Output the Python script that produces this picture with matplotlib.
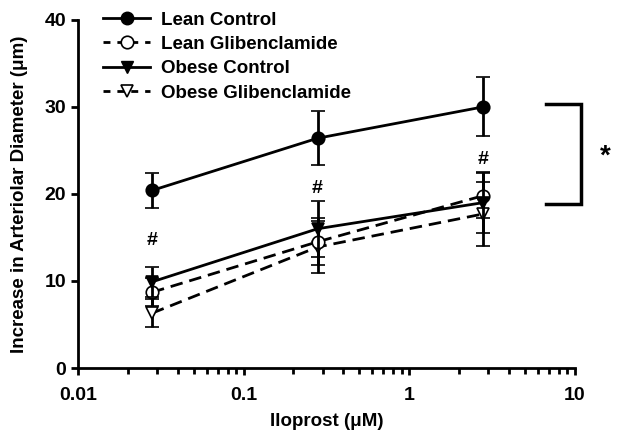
import matplotlib
matplotlib.use("Agg")
import matplotlib.pyplot as plt
import matplotlib.transforms as mtransforms
from matplotlib.lines import Line2D
from matplotlib.ticker import LogLocator, NullFormatter

plt.rcParams['font.family'] = ['Liberation Sans', 'DejaVu Sans']
plt.rcParams['font.weight'] = 'bold'

conc = [0.028, 0.28, 2.8]
lean_ctrl = [20.4, 26.4, 30.0]
lean_ctrl_err = [2.0, 3.1, 3.4]
lean_glib = [8.7, 14.5, 19.8]
lean_glib_err = [1.6, 2.7, 2.6]
obese_ctrl = [9.9, 16.0, 19.0]
obese_ctrl_err = [1.7, 3.2, 3.5]
obese_glib = [6.3, 13.9, 17.7]
obese_glib_err = [1.6, 3.0, 3.7]

hash_x = [0.028, 0.28, 2.8]
hash_y = [14.6, 20.6, 24.0]

fig = plt.figure(figsize=(6.24, 4.41), dpi=100)
ax = fig.add_axes([0.125, 0.1655, 0.796, 0.7895])

lw = 2.0
cap = 5
common = dict(linewidth=lw, elinewidth=lw, capsize=cap, capthick=lw, color='black',
              markersize=9, markeredgewidth=1.2)
dash = (4.5, 2.5)

ax.errorbar(conc, obese_glib, yerr=obese_glib_err, fmt='v', linestyle='--', dashes=dash,
            markerfacecolor='white', markeredgecolor='black', zorder=3, **common)
ax.errorbar(conc, lean_glib, yerr=lean_glib_err, fmt='o', linestyle='--', dashes=dash,
            markerfacecolor='white', markeredgecolor='black', zorder=3, **common)
ax.errorbar(conc, obese_ctrl, yerr=obese_ctrl_err, fmt='v', linestyle='-',
            markerfacecolor='black', zorder=4, **common)
ax.errorbar(conc, lean_ctrl, yerr=lean_ctrl_err, fmt='o', linestyle='-',
            markerfacecolor='black', zorder=4, **common)

ax.set_xscale('log')
ax.set_xlim(0.01, 10)
ax.set_ylim(0, 40)
ax.set_yticks([0, 10, 20, 30, 40])
ax.set_xticks([0.01, 0.1, 1, 10])
ax.set_xticklabels(['0.01', '0.1', '1', '10'])
ax.xaxis.set_minor_locator(LogLocator(base=10, subs=range(2, 10)))
ax.xaxis.set_minor_formatter(NullFormatter())

for s in ['top', 'right']:
    ax.spines[s].set_visible(False)
for s in ['left', 'bottom']:
    ax.spines[s].set_linewidth(2)
ax.tick_params(axis='both', which='major', direction='out', length=5, width=2, labelsize=14)
ax.tick_params(axis='x', which='minor', direction='out', length=4, width=2)
ax.tick_params(axis='x', pad=9)
for lbl in ax.get_xticklabels() + ax.get_yticklabels():
    lbl.set_fontweight('bold')

ax.set_xlabel('Iloprost (\u03bcM)', fontsize=13.5, fontweight='bold', labelpad=6)
ax.set_ylabel('Increase in Arteriolar Diameter (\u03bcm)', fontsize=13.5, fontweight='bold', labelpad=12)

for hx, hy in zip(hash_x, hash_y):
    ax.text(hx, hy, '#', ha='center', va='center', fontsize=14, fontweight='bold')

# bracket
trans = mtransforms.blended_transform_factory(ax.transAxes, ax.transData)
ax.plot([0.942, 1.012, 1.012, 0.942], [30.3, 30.3, 18.8, 18.8], color='black', lw=2.5,
        transform=trans, clip_on=False, solid_joinstyle='miter')
ax.text(1.062, 24.3, '*', transform=trans, ha='center', va='center', fontsize=20, fontweight='bold')

handles = [
    Line2D([], [], color='black', lw=lw, marker='o', markersize=9, markerfacecolor='black'),
    Line2D([], [], color='black', lw=lw, linestyle='--', dashes=(2.5, 2.5), marker='o', markersize=9,
           markerfacecolor='white', markeredgewidth=1.2),
    Line2D([], [], color='black', lw=lw, marker='v', markersize=9, markerfacecolor='black'),
    Line2D([], [], color='black', lw=lw, linestyle='--', dashes=(2.5, 2.5), marker='v', markersize=9,
           markerfacecolor='white', markeredgewidth=1.2),
]
labels = ['Lean Control', 'Lean Glibenclamide', 'Obese Control', 'Obese Glibenclamide']
ax.legend(handles, labels, loc='upper left', bbox_to_anchor=(0.036, 1.045), frameon=False,
          prop={'size': 13.5, 'weight': 'bold'}, handlelength=2.5, handletextpad=0.55,
          labelspacing=0.38, borderaxespad=0)

fig.savefig('out.png', dpi=100)
